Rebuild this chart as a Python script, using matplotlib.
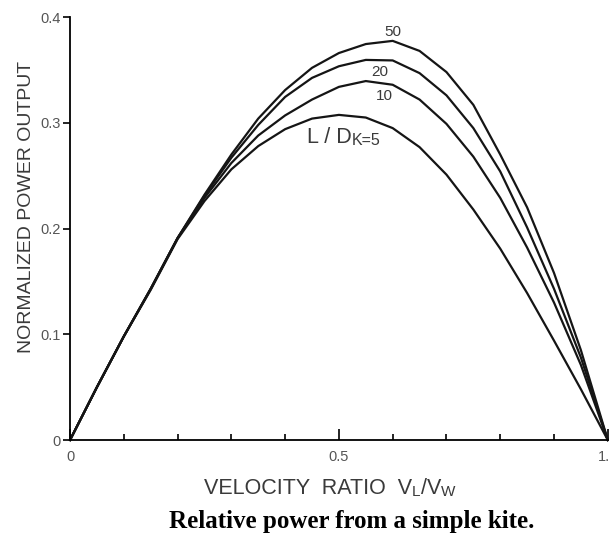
import numpy as np
import matplotlib.pyplot as plt

# velocity ratio VL/VW
ratio = [0, 0.05, 0.1, 0.15, 0.2, 0.25, 0.3, 0.35, 0.4, 0.45, 0.5,
         0.55, 0.6, 0.65, 0.7, 0.75, 0.8, 0.85, 0.9, 0.95, 1.0]

# normalized power output, one list per L/D of the kite
power_ld5 = [0, 0.05, 0.098, 0.142, 0.19, 0.226, 0.256, 0.278, 0.294, 0.304, 0.3075,
             0.305, 0.295, 0.277, 0.251, 0.218, 0.181, 0.139, 0.094, 0.048, 0]
power_ld10 = [0, 0.05, 0.098, 0.143, 0.191, 0.229, 0.262, 0.288, 0.307, 0.322, 0.334,
              0.3395, 0.336, 0.322, 0.299, 0.268, 0.229, 0.182, 0.130, 0.071, 0]
power_ld20 = [0, 0.05, 0.098, 0.143, 0.191, 0.231, 0.267, 0.298, 0.3245, 0.3425, 0.3535,
              0.3595, 0.359, 0.347, 0.326, 0.295, 0.254, 0.201, 0.143, 0.078, 0]
power_ld50 = [0, 0.05, 0.098, 0.143, 0.191, 0.232, 0.270, 0.304, 0.331, 0.352, 0.366,
              0.3745, 0.3775, 0.368, 0.348, 0.317, 0.270, 0.220, 0.158, 0.085, 0]

plt.rcParams['font.family'] = ['Liberation Sans', 'DejaVu Sans']
txt_col = '#3a3a3a'

fig, ax = plt.subplots(figsize=(6.09, 5.34), dpi=100)
fig.subplots_adjust(left=0.115, right=0.998, bottom=0.176, top=0.968)

for ys in [power_ld5, power_ld10, power_ld20, power_ld50]:
    ax.plot(ratio, ys, color='#151515', lw=1.6, clip_on=False, solid_joinstyle='round')

ax.set_xlim(0, 1)
ax.set_ylim(0, 0.4)
for s in ['top', 'right']:
    ax.spines[s].set_visible(False)
for s in ['left', 'bottom']:
    ax.spines[s].set_linewidth(1.3)

ax.set_xticks([0, 0.5, 1.0])
ax.set_xticklabels(['0', '0.5', '1.0'])
ax.set_xticks([0.1, 0.2, 0.3, 0.4, 0.6, 0.7, 0.8, 0.9], minor=True)
ax.tick_params(axis='x', which='major', direction='in', length=8, width=1.2,
               pad=7, labelsize=10.5, labelcolor='#555555')
ax.tick_params(axis='x', which='minor', direction='in', length=4, width=1.2)
ax.set_yticks([0, 0.1, 0.2, 0.3, 0.4])
ax.set_yticklabels(['0', '0.1', '0.2', '0.3', '0.4'])
ax.tick_params(axis='y', direction='out', length=5, width=1.2, pad=2,
               labelsize=10.5, labelcolor='#555555')

ax.set_ylabel('NORMALIZED POWER OUTPUT', fontsize=14, color=txt_col)
ax.yaxis.set_label_coords(-0.066, 0.55)

# curve labels
ax.text(0.600, 0.386, '50', ha='center', va='center', fontsize=11, color=txt_col)
ax.text(0.576, 0.348, '20', ha='center', va='center', fontsize=11, color=txt_col)
ax.text(0.585, 0.325, '10', ha='center', va='center', fontsize=11, color=txt_col)
t = ax.text(0.44, 0.281, 'L / D', ha='left', va='baseline', fontsize=15.5, color=txt_col)
ax.annotate('K=5', xy=(1, 0), xycoords=t, ha='left', va='bottom', fontsize=11.5, color=txt_col)

# x axis label with small capitals
pieces = [('VELOCITY  RATIO  V', 15.5), ('L', 11), ('/V', 15.5), ('W', 11)]
prev = ax.text(0.249, -0.128, pieces[0][0], transform=ax.transAxes, ha='left',
               va='baseline', fontsize=pieces[0][1], color=txt_col)
for s, fs in pieces[1:]:
    prev = ax.annotate(s, xy=(1, 0), xycoords=prev, ha='left', va='bottom',
                       fontsize=fs, color=txt_col)

fig.text(0.578, 0.024, 'Relative power from a simple kite.', ha='center', va='center',
         fontsize=18, fontweight='bold', family=['Liberation Serif', 'DejaVu Serif'])

fig.savefig('out.png', dpi=100)
